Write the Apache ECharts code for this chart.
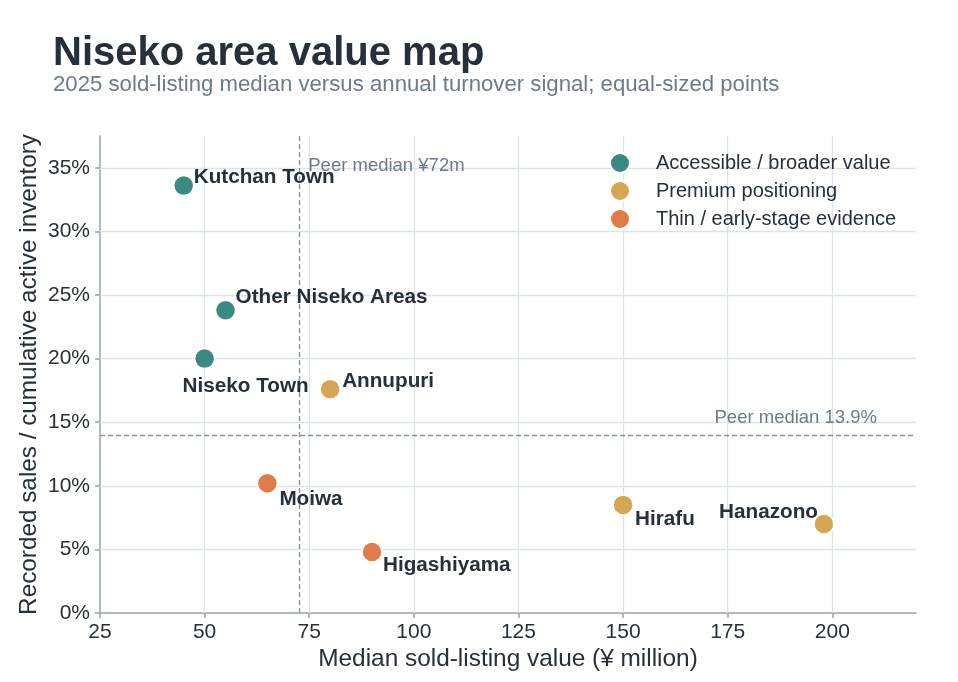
<!DOCTYPE html>
<html>
<head>
<meta charset="utf-8">
<script src="https://cdn.jsdelivr.net/npm/echarts@6/dist/echarts.min.js"></script>
<style>html,body{margin:0;padding:0;background:#fff;}#c{width:958px;height:682px;}</style>
</head>
<body>
<div id="c"></div>
<script>
// ---- data ----
const areaNames = ['Kutchan Town','Other Niseko Areas','Niseko Town','Annupuri','Moiwa','Higashiyama','Hirafu','Hanazono'];
const medianValue = [45, 55, 50, 80, 65, 90, 150, 198];          // ¥ million
const turnoverSignal = [0.336, 0.238, 0.200, 0.176, 0.102, 0.048, 0.085, 0.070];
const areaGroup = ['Accessible / broader value','Accessible / broader value','Accessible / broader value','Premium positioning','Thin / early-stage evidence','Thin / early-stage evidence','Premium positioning','Premium positioning'];
const groupNames = ['Accessible / broader value','Premium positioning','Thin / early-stage evidence'];
const peerMedianValue = 72.5;
const peerMedianTurnover = 0.139;
const xTicks = [25, 50, 75, 100, 125, 150, 175, 200];
const yTicks = [0, 0.05, 0.10, 0.15, 0.20, 0.25, 0.30, 0.35];

// ---- styles ----
const FONT = '"Liberation Sans", Arial, Helvetica, sans-serif';
const INK = '#25303b';
const MUTED = '#6b7b8c';
const groupColors = {'Accessible / broader value':'#3a8a83','Premium positioning':'#d4a853','Thin / early-stage evidence':'#e07b4a'};
const labelLayout = {
  'Kutchan Town':       {align:'left',   offset:[10,-8.5]},
  'Other Niseko Areas': {align:'left',   offset:[10,-12.5]},
  'Niseko Town':        {align:'center', offset:[41,27.5]},
  'Annupuri':           {align:'left',   offset:[12,-7.5]},
  'Moiwa':              {align:'left',   offset:[12,16]},
  'Higashiyama':        {align:'left',   offset:[11,13]},
  'Hirafu':             {align:'left',   offset:[12,14]},
  'Hanazono':           {align:'right',  offset:[-6,-12]}
};

const chart = echarts.init(document.getElementById('c'), null, {renderer:'canvas'});

const scatterSeries = groupNames.map(g => ({
  name: g,
  type: 'scatter',
  z: 4,
  symbol: 'circle',
  symbolSize: 20,
  itemStyle: {color: groupColors[g], borderColor: '#fff', borderWidth: 1.5, opacity: 1},
  data: areaNames.map((n, i) => ({n, i})).filter(o => areaGroup[o.i] === g).map(o => ({
    name: o.n,
    value: [medianValue[o.i], turnoverSignal[o.i]],
    label: {
      show: true, position: 'inside', align: labelLayout[o.n].align, verticalAlign: 'middle',
      offset: labelLayout[o.n].offset, formatter: o.n,
      color: INK, fontFamily: FONT, fontSize: 20.7, fontWeight: 'bold'
    }
  })),
  emphasis: {disabled: true}
}));

const gridSeries = {
  type: 'scatter', data: [], silent: true, z: 1,
  markLine: {
    silent: true, z: 1, symbol: ['none','none'], animation: false,
    label: {show: false},
    lineStyle: {color: '#dde3ea', width: 1.3, type: 'solid'},
    emphasis: {disabled: true},
    data: xTicks.filter(v => v !== xTicks[0]).map(v => ({xAxis: v}))
      .concat(yTicks.filter(v => v !== yTicks[0]).map(v => ({yAxis: v})))
  }
};

const peerSeries = {
  type: 'scatter', data: [], silent: true, z: 2,
  markLine: {
    silent: true, z: 2, symbol: ['none','none'], animation: false,
    label: {show: false},
    lineStyle: {color: '#8795a3', width: 1.4, type: [5, 3]},
    emphasis: {disabled: true},
    data: [{xAxis: peerMedianValue}, {yAxis: peerMedianTurnover}]
  },
  markPoint: {
    silent: true, z: 3, symbol: 'circle', symbolSize: 0, animation: false,
    itemStyle: {color: 'transparent'},
    data: [
      {coord: [peerMedianValue, 0.375], label: {show: true, position: 'inside', align: 'left', verticalAlign: 'middle', offset: [9.5, 29.5], formatter: 'Peer median ¥72m', color: MUTED, fontFamily: FONT, fontSize: 18.5}},
      {coord: [220, peerMedianTurnover], label: {show: true, position: 'inside', align: 'right', verticalAlign: 'middle', offset: [-39, -18.5], formatter: 'Peer median 13.9%', color: MUTED, fontFamily: FONT, fontSize: 18.5}}
    ]
  }
};

const axisLineStyle = {color: '#94a3b3', width: 1.5};

chart.setOption({
  animation: false,
  backgroundColor: '#fff',
  title: [
    {text: 'Niseko area value map', left: 48, top: 29, textStyle: {fontFamily: FONT, fontSize: 40, fontWeight: 'bold', color: INK, lineHeight: 40}},
    {text: '2025 sold-listing median versus annual turnover signal; equal-sized points', left: 48, top: 69, textStyle: {fontFamily: FONT, fontSize: 22.2, fontWeight: 'normal', color: MUTED, lineHeight: 22}}
  ],
  legend: {
    data: groupNames, orient: 'vertical', left: 604, top: 147,
    icon: 'circle', itemWidth: 62, itemHeight: 20, itemGap: 6,
    textStyle: {fontFamily: FONT, fontSize: 20, color: INK, lineHeight: 20},
    selectedMode: false
  },
  grid: {left: 100, right: 42, top: 136, bottom: 69, containLabel: false, outerBoundsMode: 'none'},
  xAxis: {
    type: 'value', min: 25, max: 220, interval: 25,
    name: 'Median sold-listing value (¥ million)', nameLocation: 'middle', nameGap: 34.5,
    nameMoveOverlap: false,
    nameTextStyle: {fontFamily: FONT, fontSize: 24.4, color: INK},
    axisLine: {show: true, lineStyle: axisLineStyle},
    axisTick: {show: true, length: 5, lineStyle: axisLineStyle, customValues: xTicks},
    axisLabel: {fontFamily: FONT, fontSize: 21, color: INK, margin: 9, customValues: xTicks,
      formatter: v => xTicks.indexOf(v) >= 0 ? String(v) : ''},
    splitLine: {show: false}
  },
  yAxis: {
    type: 'value', min: 0, max: 0.375, interval: 0.05,
    name: 'Recorded sales / cumulative active inventory', nameLocation: 'middle', nameGap: 59,
    nameMoveOverlap: false,
    nameTextStyle: {fontFamily: FONT, fontSize: 24.3, color: INK},
    axisLine: {show: true, lineStyle: axisLineStyle},
    axisTick: {show: true, length: 5, lineStyle: axisLineStyle, customValues: yTicks},
    axisLabel: {fontFamily: FONT, fontSize: 21, color: INK, margin: 10, customValues: yTicks,
      formatter: v => yTicks.some(t => Math.abs(t - v) < 1e-9) ? Math.round(v * 100) + '%' : ''},
    splitLine: {show: false}
  },
  series: [gridSeries, peerSeries].concat(scatterSeries)
});
</script>
</body>
</html>
